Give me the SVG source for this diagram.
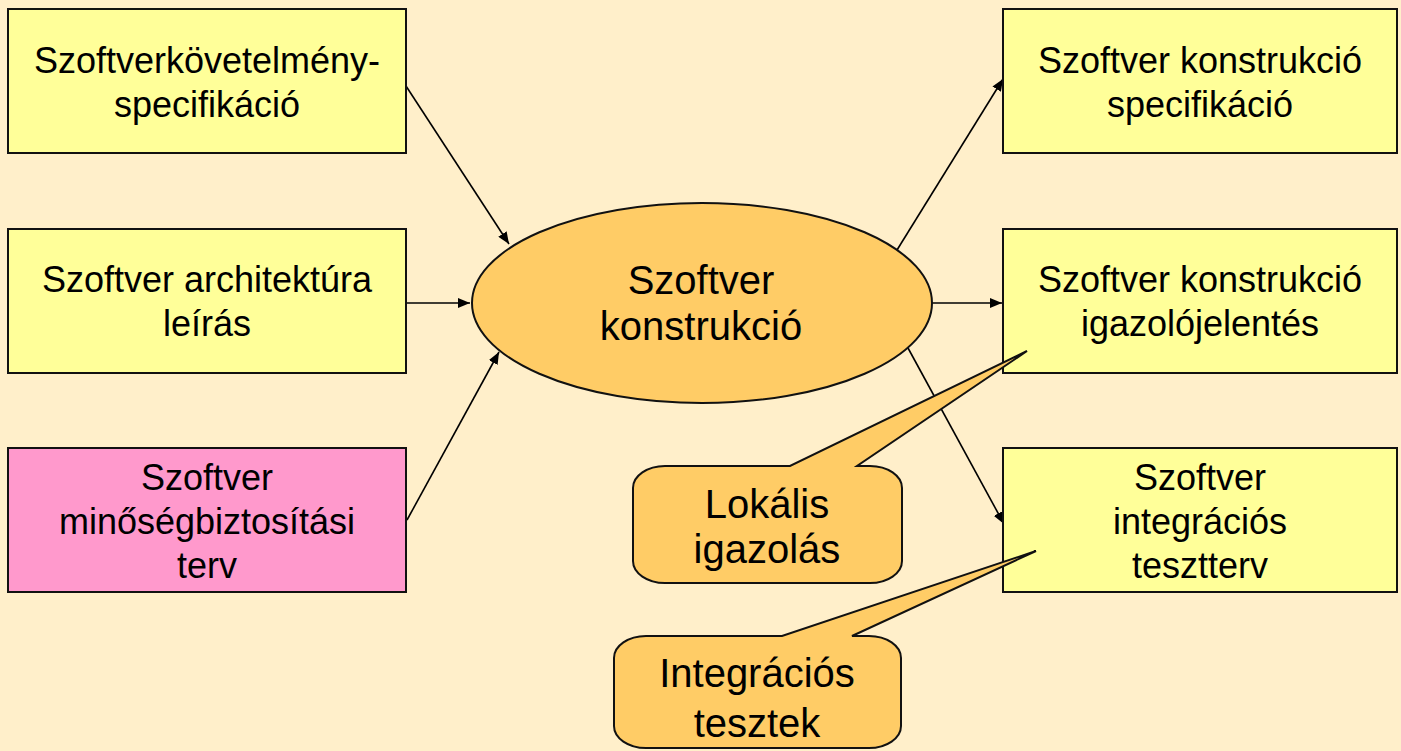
<svg xmlns="http://www.w3.org/2000/svg" width="1401" height="751" viewBox="0 0 1401 751">
<style>
  .box { fill: #FFFF99; stroke: #111; stroke-width: 2; }
  .pink { fill: #FF99CC; stroke: #111; stroke-width: 2; }
  .orange { fill: #FFCC66; stroke: #111; stroke-width: 2; }
  .t36 { font-family: "Liberation Sans", Arial, sans-serif; font-size: 36px; fill: #000; text-anchor: middle; }
  .t40 { font-family: "Liberation Sans", Arial, sans-serif; font-size: 40px; fill: #000; text-anchor: middle; }
  .conn { stroke: #000; stroke-width: 1.6; fill: none; }
</style>
<defs>
  <marker id="arr" viewBox="0 0 12 10" refX="12" refY="5" markerWidth="12" markerHeight="10" markerUnits="userSpaceOnUse" orient="auto">
    <path d="M0,0 L12,5 L0,10 Z" fill="#000"/>
  </marker>
</defs>
<rect x="0" y="0" width="1401" height="751" fill="#FFEFCA"/>

<g id="connectors">
  <line class="conn" x1="406" y1="86" x2="509" y2="244" marker-end="url(#arr)"/>
  <line class="conn" x1="407" y1="303" x2="470" y2="303" marker-end="url(#arr)"/>
  <line class="conn" x1="407" y1="520" x2="499" y2="352" marker-end="url(#arr)"/>
  <line class="conn" x1="897" y1="250" x2="1003" y2="79" marker-end="url(#arr)"/>
  <line class="conn" x1="932" y1="303" x2="1002" y2="303" marker-end="url(#arr)"/>
  <line class="conn" x1="908" y1="348" x2="1004" y2="524" marker-end="url(#arr)"/>
</g>

<g id="req-spec">
  <rect class="box" x="8" y="9" width="398" height="144"/>
  <text class="t36" x="207" y="73">Szoftverkövetelmény-</text>
  <text class="t36" x="207" y="117">specifikáció</text>
</g>
<g id="arch-desc">
  <rect class="box" x="8" y="229" width="398" height="144"/>
  <text class="t36" x="207" y="292">Szoftver architektúra</text>
  <text class="t36" x="207" y="336">leírás</text>
</g>
<g id="qa-plan">
  <rect class="pink" x="8" y="448" width="398" height="144"/>
  <text class="t36" x="207" y="490">Szoftver</text>
  <text class="t36" x="207" y="534">minőségbiztosítási</text>
  <text class="t36" x="207" y="578">terv</text>
</g>

<g id="construction">
  <ellipse class="orange" cx="702" cy="303" rx="230" ry="100"/>
  <text class="t40" x="701" y="294">Szoftver</text>
  <text class="t40" x="701" y="340">konstrukció</text>
</g>

<g id="constr-spec">
  <rect class="box" x="1003" y="9" width="394" height="144"/>
  <text class="t36" x="1200" y="73">Szoftver konstrukció</text>
  <text class="t36" x="1200" y="117">specifikáció</text>
</g>
<g id="constr-report">
  <rect class="box" x="1003" y="229" width="394" height="144"/>
  <text class="t36" x="1200" y="292">Szoftver konstrukció</text>
  <text class="t36" x="1200" y="336">igazolójelentés</text>
</g>
<g id="int-testplan">
  <rect class="box" x="1003" y="448" width="394" height="144"/>
  <text class="t36" x="1200" y="490">Szoftver</text>
  <text class="t36" x="1200" y="534">integrációs</text>
  <text class="t36" x="1200" y="578">tesztterv</text>
</g>

<g id="callout-local">
  <path class="orange" d="M665,466 H790 L1027,351 L857,466 H870 A32,22 0 0 1 902,488 V561 A32,22 0 0 1 870,583 H665 A32,22 0 0 1 633,561 V488 A32,22 0 0 1 665,466 Z"/>
  <text class="t40" x="767" y="518">Lokális</text>
  <text class="t40" x="767" y="563">igazolás</text>
</g>
<g id="callout-int">
  <path class="orange" d="M646,636 H782 L1036,551 L852,636 H869 A32,22 0 0 1 901,658 V726 A32,22 0 0 1 869,748 H646 A32,22 0 0 1 614,726 V658 A32,22 0 0 1 646,636 Z"/>
  <text class="t40" x="757" y="687">Integrációs</text>
  <text class="t40" x="757" y="737">tesztek</text>
</g>
</svg>
